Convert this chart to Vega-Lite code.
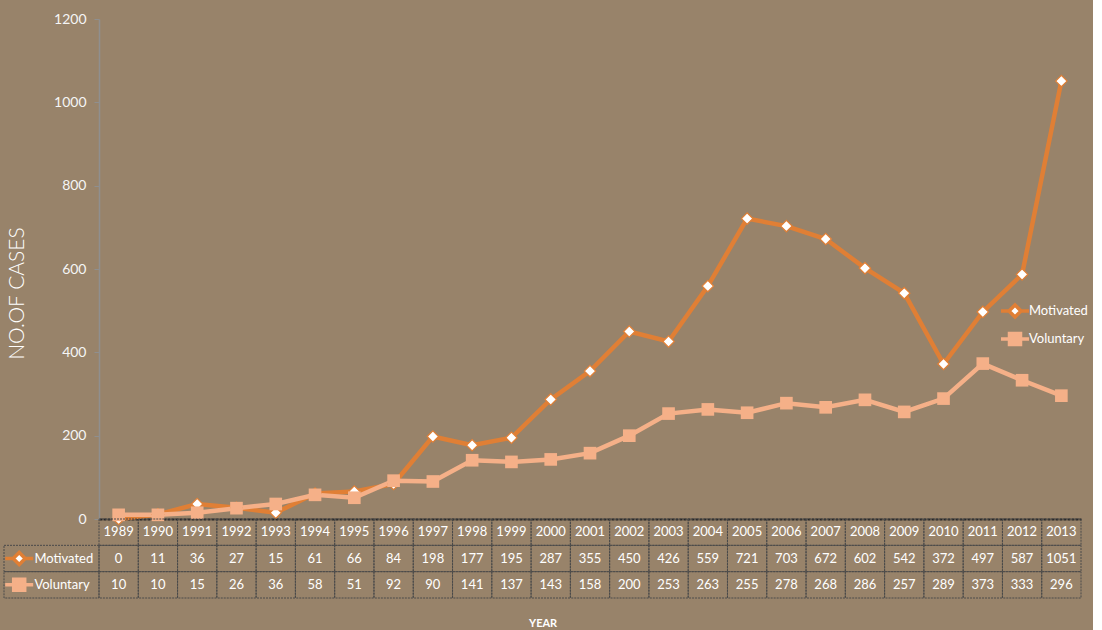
{
  "$schema": "https://vega.github.io/schema/vega-lite/v6.json",
  "background": "#98836A",
  "padding": {"left": -2, "top": 12, "right": 5, "bottom": 2},
  "config": {"view": {"stroke": null}, "font": "Lato"},
  "data": {"values": [
    {"year": 1989, "Motivated": 0, "Voluntary": 10},
    {"year": 1990, "Motivated": 11, "Voluntary": 10},
    {"year": 1991, "Motivated": 36, "Voluntary": 15},
    {"year": 1992, "Motivated": 27, "Voluntary": 26},
    {"year": 1993, "Motivated": 15, "Voluntary": 36},
    {"year": 1994, "Motivated": 61, "Voluntary": 58},
    {"year": 1995, "Motivated": 66, "Voluntary": 51},
    {"year": 1996, "Motivated": 84, "Voluntary": 92},
    {"year": 1997, "Motivated": 198, "Voluntary": 90},
    {"year": 1998, "Motivated": 177, "Voluntary": 141},
    {"year": 1999, "Motivated": 195, "Voluntary": 137},
    {"year": 2000, "Motivated": 287, "Voluntary": 143},
    {"year": 2001, "Motivated": 355, "Voluntary": 158},
    {"year": 2002, "Motivated": 450, "Voluntary": 200},
    {"year": 2003, "Motivated": 426, "Voluntary": 253},
    {"year": 2004, "Motivated": 559, "Voluntary": 263},
    {"year": 2005, "Motivated": 721, "Voluntary": 255},
    {"year": 2006, "Motivated": 703, "Voluntary": 278},
    {"year": 2007, "Motivated": 672, "Voluntary": 268},
    {"year": 2008, "Motivated": 602, "Voluntary": 286},
    {"year": 2009, "Motivated": 542, "Voluntary": 257},
    {"year": 2010, "Motivated": 372, "Voluntary": 289},
    {"year": 2011, "Motivated": 497, "Voluntary": 373},
    {"year": 2012, "Motivated": 587, "Voluntary": 333},
    {"year": 2013, "Motivated": 1051, "Voluntary": 296}
  ]},
  "title": {"text": "YEAR", "orient": "bottom", "anchor": "middle", "fontSize": 11, "fontWeight": "bold", "color": "#ffffff", "font": "Lato", "offset": 19},
  "columns": 2,
  "spacing": 0,
  "bounds": "flush",
  "concat": [
    {
      "width": 95, "height": 500,
      "data": {"values": [{"a": 1}]},
      "mark": {"type": "text", "text": ""},
      "encoding": {}
    },
    {
      "width": 982, "height": 500,
      "transform": [{"fold": ["Motivated", "Voluntary"], "as": ["series", "value"]}],
      "encoding": {
        "x": {"field": "year", "type": "ordinal",
              "axis": {"labels": false, "ticks": false, "title": null, "domainColor": "#262626", "domainWidth": 2, "domainDash": [3, 1]}},
        "y": {"field": "value", "type": "quantitative",
              "scale": {"domain": [0, 1200], "nice": false},
              "axis": {"title": "NO.OF CASES", "titleFont": "Lato", "titleFontSize": 21, "titleFontWeight": 300, "titleColor": "#ffffff", "titlePadding": 26, "titleY": 274,
                       "labelColor": "#f5f5f5", "labelFontSize": 14, "labelFont": "Lato", "labelPadding": 8, "tickSize": 5, "tickColor": "#8f8f8f", "format": "d",
                       "domainColor": "#8f8f8f", "domainWidth": 1.5, "grid": false, "values": [0, 200, 400, 600, 800, 1000, 1200]}}
      },
      "layer": [
        {
          "mark": {"type": "line", "strokeWidth": 4.5},
          "encoding": {
            "stroke": {"field": "series", "type": "nominal",
                       "scale": {"domain": ["Motivated", "Voluntary"], "range": ["#E07F35", "#F5B088"]},
                       "legend": {"orient": "none", "legendX": 1004, "legendY": 285, "title": null, "padding": 0,
                                  "labelColor": "#ffffff", "labelFontSize": 13, "labelFont": "Lato", "labelOffset": 7,
                                  "symbolSize": 100, "symbolStrokeWidth": 3.5, "symbolOpacity": 1, "rowPadding": 2}}
          }
        },
        {
          "transform": [{"filter": "datum.series === 'Motivated'"}],
          "mark": {"type": "point", "shape": "diamond", "filled": true, "fill": "#ffffff", "stroke": "#E07F35", "strokeWidth": 1.2, "size": 130, "opacity": 1}
        },
        {
          "transform": [{"filter": "datum.series === 'Voluntary'"}],
          "mark": {"type": "point", "shape": "square", "filled": true, "fill": "#F5B088", "size": 160, "opacity": 1}
        },
        {
          "transform": [{"filter": "datum.year === 0"}],
          "mark": {"type": "point", "filled": true, "size": 100, "strokeWidth": 3.5, "opacity": 1},
          "encoding": {
            "shape": {"field": "series", "type": "nominal", "scale": {"domain": ["Motivated", "Voluntary"], "range": ["M-2.8,0H-1.2M1.2,0H2.8M0,-1.2L1.2,0L0,1.2L-1.2,0Z", "M-2.8,0H-1.1M1.1,0H2.8M-1.1,-1.1H1.1V1.1H-1.1Z"]}},
            "fill": {"field": "series", "type": "nominal", "scale": {"domain": ["Motivated", "Voluntary"], "range": ["#ffffff", "#F5B088"]}},
            "stroke": {"field": "series", "type": "nominal"}
          }
        }
      ]
    },
    {
      "width": 95, "height": 79,
      "transform": [{"filter": "datum.year === 1989"}, {"fold": ["Motivated", "Voluntary"], "as": ["series", "value"]}],
      "encoding": {
        "y": {"field": "series", "type": "nominal", "scale": {"domain": ["Year", "Motivated", "Voluntary"], "paddingInner": 0, "paddingOuter": 0}, "axis": null}
      },
      "layer": [
        {
          "mark": {"type": "rect", "fillOpacity": 0, "stroke": "#4a4a4a", "strokeWidth": 1, "strokeDash": [2, 1]},
          "encoding": {"x": {"datum": 0, "type": "quantitative", "scale": {"domain": [0, 1]}, "axis": null}, "x2": {"datum": 1}}
        },
        {
          "mark": {"type": "point", "filled": true, "size": 100, "strokeWidth": 3.5, "opacity": 1},
          "encoding": {
            "x": {"datum": 0.16, "type": "quantitative"},
            "shape": {"field": "series", "type": "nominal", "scale": {"domain": ["Motivated", "Voluntary"], "range": ["M-2.8,0H-1.2M1.2,0H2.8M0,-1.2L1.2,0L0,1.2L-1.2,0Z", "M-2.8,0H-1.1M1.1,0H2.8M-1.1,-1.1H1.1V1.1H-1.1Z"]}, "legend": null},
            "fill": {"field": "series", "type": "nominal", "scale": {"domain": ["Motivated", "Voluntary"], "range": ["#ffffff", "#F5B088"]}, "legend": null},
            "stroke": {"field": "series", "type": "nominal", "scale": {"domain": ["Motivated", "Voluntary"], "range": ["#E07F35", "#F5B088"]}, "legend": null}
          }
        },
        {
          "mark": {"type": "text", "align": "left", "baseline": "middle", "color": "#ffffff", "fontSize": 13, "font": "Lato"},
          "encoding": {"x": {"datum": 0.32, "type": "quantitative"}, "text": {"field": "series", "type": "nominal"}}
        }
      ]
    },
    {
      "width": 982, "height": 79,
      "encoding": {
        "x": {"field": "year", "type": "ordinal", "scale": {"paddingInner": 0, "paddingOuter": 0}, "axis": null}
      },
      "layer": [
        {
          "mark": {"type": "rect", "fillOpacity": 0, "stroke": "#4a4a4a", "strokeWidth": 1, "strokeDash": [2, 1]},
          "encoding": {"y": {"datum": "Year", "type": "nominal", "scale": {"domain": ["Year", "Motivated", "Voluntary"], "paddingInner": 0, "paddingOuter": 0}, "axis": null}}
        },
        {
          "transform": [{"fold": ["Motivated", "Voluntary"], "as": ["series", "value"]}],
          "mark": {"type": "rect", "fillOpacity": 0, "stroke": "#4a4a4a", "strokeWidth": 1, "strokeDash": [2, 1]},
          "encoding": {"y": {"field": "series", "type": "nominal"}}
        },
        {
          "mark": {"type": "text", "baseline": "middle", "color": "#ffffff", "fontSize": 13, "font": "Lato"},
          "encoding": {"y": {"datum": "Year", "type": "nominal"}, "text": {"field": "year", "type": "ordinal"}}
        },
        {
          "transform": [{"fold": ["Motivated", "Voluntary"], "as": ["series", "value"]}],
          "mark": {"type": "text", "baseline": "middle", "color": "#ffffff", "fontSize": 13, "font": "Lato"},
          "encoding": {"y": {"field": "series", "type": "nominal"}, "text": {"field": "value", "type": "quantitative", "format": "d"}}
        }
      ]
    }
  ]
}
